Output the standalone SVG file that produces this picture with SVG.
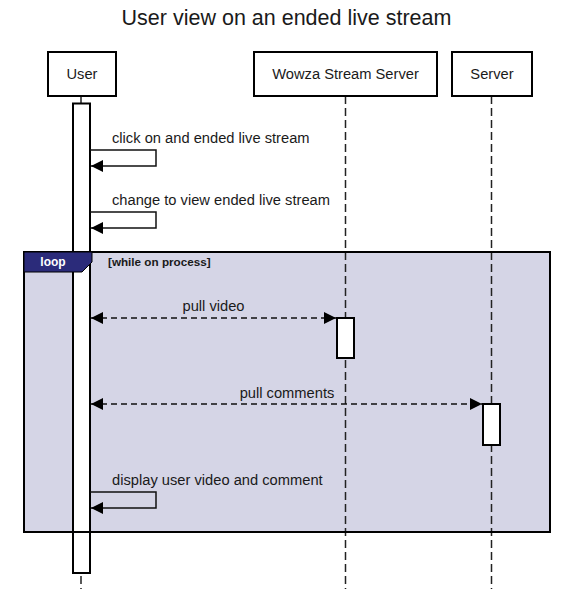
<svg xmlns="http://www.w3.org/2000/svg" width="573" height="589" viewBox="0 0 573 589">
<defs>
<style>
text{font-family:"Liberation Sans",Arial,sans-serif;fill:#1a1a1a}
.lbl{font-size:14.7px}
.node rect{fill:#fff;stroke:#000;stroke-width:2}
.life{stroke:#222;stroke-width:1.5;stroke-dasharray:8 4;fill:none}
.act{fill:#fff;stroke:#222;stroke-width:1.3}
.msg{stroke:#111;stroke-width:1.5;fill:none}
.dash{stroke-dasharray:6 4}
</style>
<marker id="ah" viewBox="0 0 10 10" refX="10" refY="5" markerWidth="12" markerHeight="12" markerUnits="userSpaceOnUse" orient="auto-start-reverse">
<path d="M0,0 L10,5 L0,10 z" fill="#000"/>
</marker>
</defs>
<rect width="573" height="589" fill="#fff"/>
<text x="286.5" y="25" font-size="21.5" text-anchor="middle">User view on an ended live stream</text>

<g id="loop-fill">
<rect x="24" y="252" width="526" height="280" fill="#D5D5E6"/>
</g>

<g id="lifelines">
<line class="life" x1="81" y1="96" x2="81" y2="589"/>
<line class="life" x1="345.5" y1="96" x2="345.5" y2="589"/>
<line class="life" x1="491.5" y1="96" x2="491.5" y2="589"/>
</g>

<g id="node-user" class="node">
<rect x="48" y="52" width="68" height="44"/>
<text class="lbl" x="82" y="79" text-anchor="middle">User</text>
<rect class="act" x="73" y="103.5" width="17" height="469.5"/>
</g>
<g id="node-wowza" class="node">
<rect x="254" y="52" width="183" height="44"/>
<text class="lbl" x="345.5" y="79" text-anchor="middle">Wowza Stream Server</text>
<rect class="act" x="337" y="318" width="17" height="40"/>
</g>
<g id="node-server" class="node">
<rect x="452" y="52" width="80" height="44"/>
<text class="lbl" x="492" y="79" text-anchor="middle">Server</text>
<rect class="act" x="483" y="404" width="17" height="41"/>
</g>

<g id="loop-frame">
<rect x="24" y="252" width="526" height="280" fill="none" stroke="#000" stroke-width="2"/>
<path d="M24,252 L92,252 L92,262 L82,272 L24,272 Z" fill="#2B2B7A" stroke="#000" stroke-width="1"/>
<text x="53" y="266" font-size="12" font-weight="bold" text-anchor="middle" style="fill:#fff">loop</text>
<text x="108" y="266" font-size="11.7" font-weight="bold">[while on process]</text>
</g>

<g id="connectors">
<path class="msg" d="M90,150 H156 V166 H91" marker-end="url(#ah)"/>
<text class="lbl" x="112" y="143">click on and ended live stream</text>
<path class="msg" d="M90,212 H156 V228 H91" marker-end="url(#ah)"/>
<text class="lbl" x="112" y="205">change to view ended live stream</text>
<line class="msg dash" x1="91" y1="318" x2="336" y2="318" marker-start="url(#ah)" marker-end="url(#ah)"/>
<text class="lbl" x="213.5" y="311" text-anchor="middle">pull video</text>
<line class="msg dash" x1="91" y1="404" x2="482" y2="404" marker-start="url(#ah)" marker-end="url(#ah)"/>
<text class="lbl" x="287" y="398" text-anchor="middle">pull comments</text>
<path class="msg" d="M90,492 H156 V508 H91" marker-end="url(#ah)"/>
<text class="lbl" x="112" y="485">display user video and comment</text>
</g>
</svg>
